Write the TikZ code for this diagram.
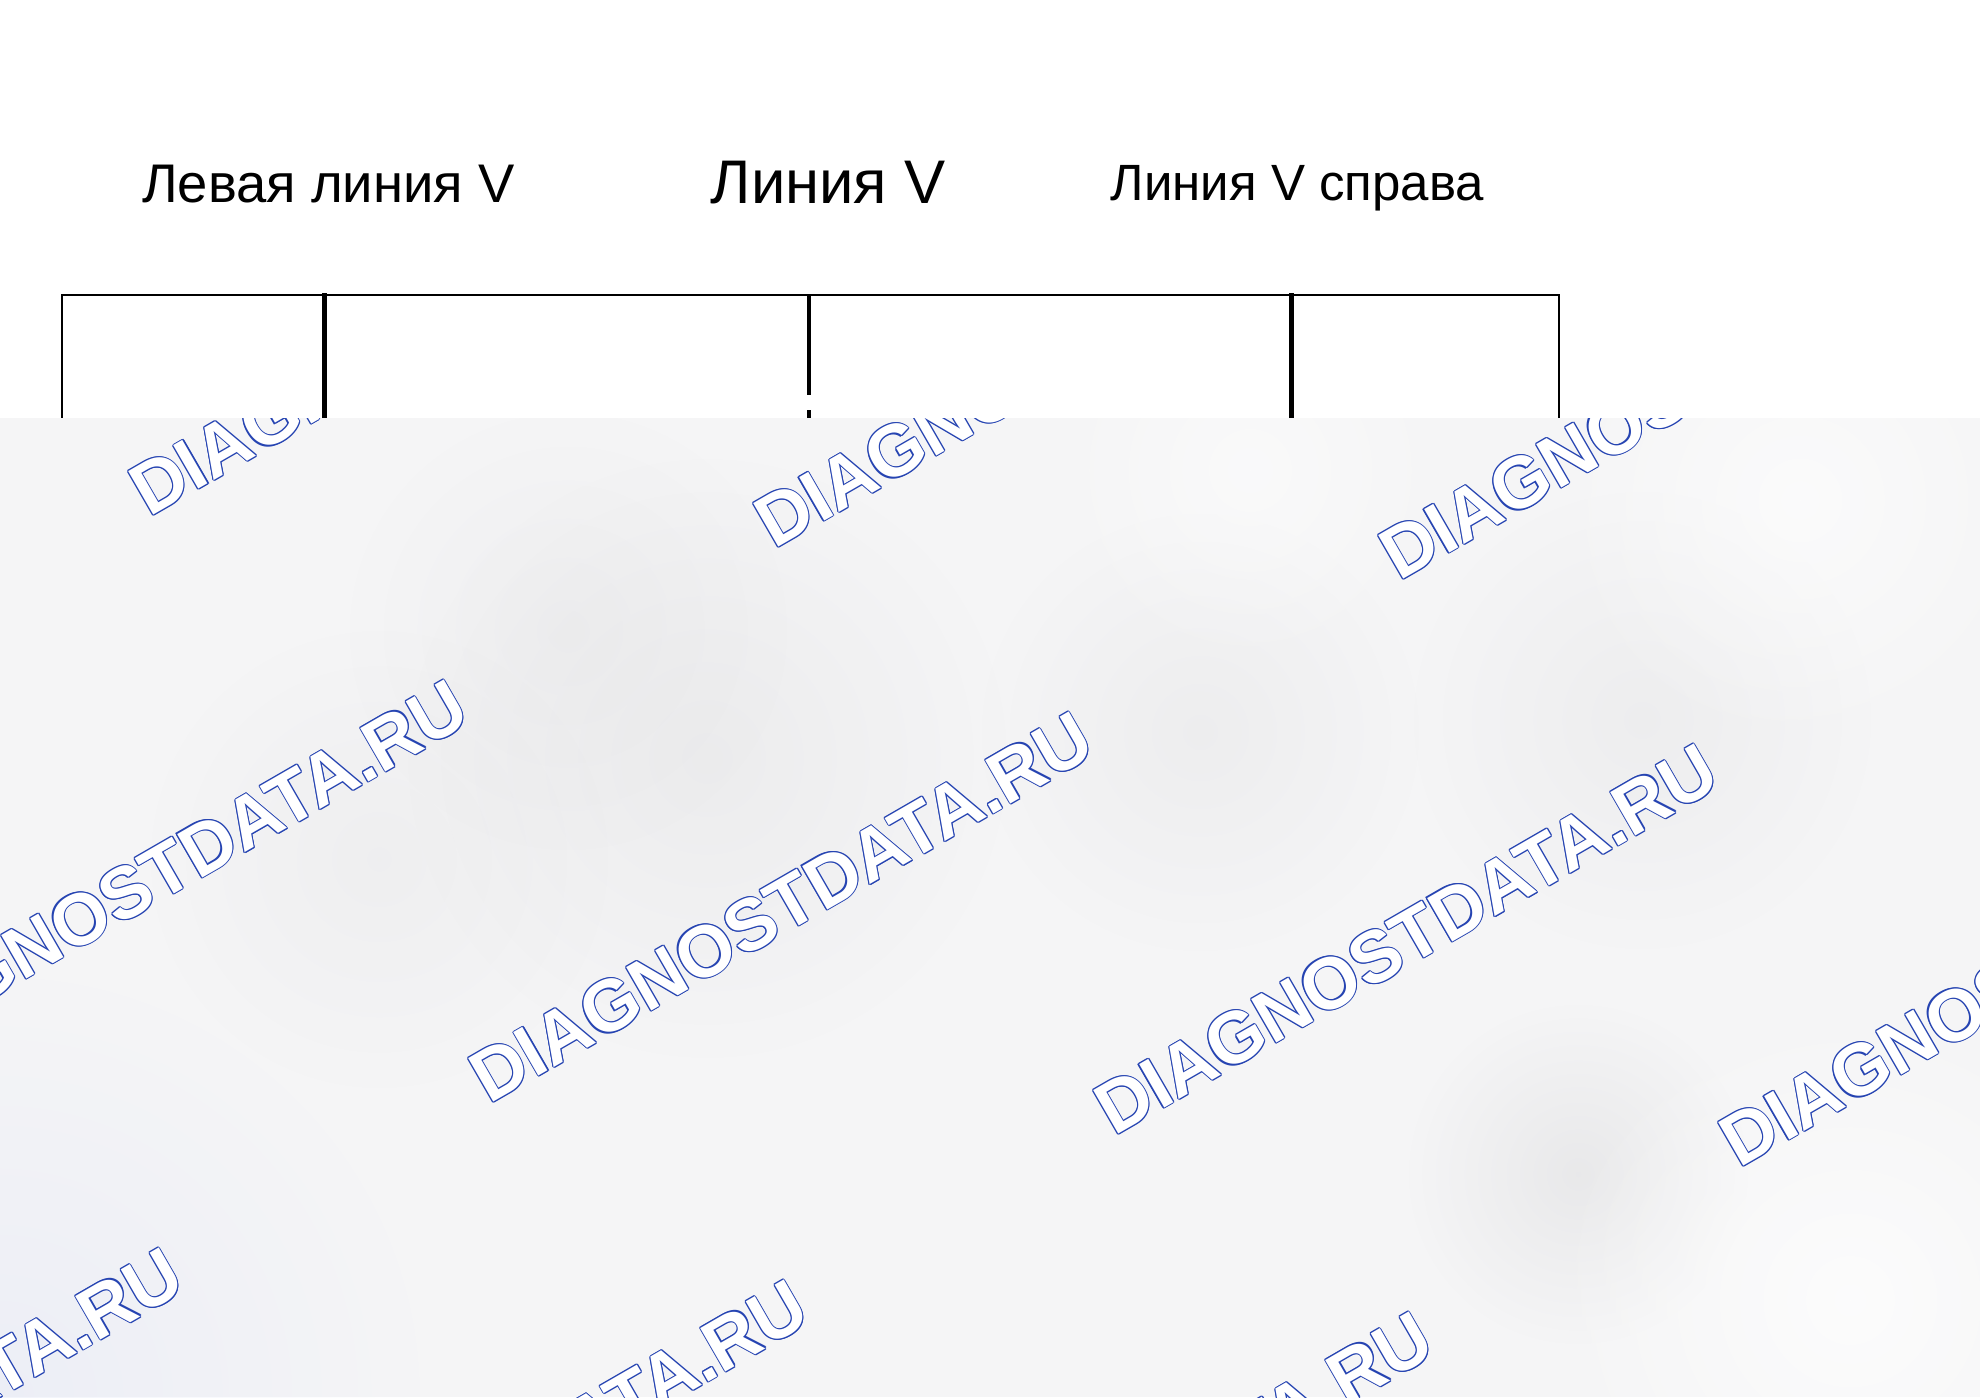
\documentclass[tikz,border=0pt]{standalone}
\usepackage{fontspec}
\setmainfont{Liberation Sans}
\usetikzlibrary{fadings}
\definecolor{wmblue}{RGB}{38,68,178}
\definecolor{bggray}{RGB}{245,245,246}
\definecolor{blobgray}{RGB}{210,210,212}
\tikzfading[name=blobfade, inner color=transparent!0, outer color=transparent!100]
\begin{document}
\begin{tikzpicture}[x=0.5pt,y=-0.5pt,
  lbl/.style={anchor=base, inner sep=0pt, text=black},
  frameline/.style={draw=black, line width=1.25pt, line join=miter},
  thickbar/.style={draw=black, line width=2.5pt},
  midbar/.style={draw=black, line width=1.65pt},
  blob/.style={fill=blobgray, path fading=blobfade},
  wmbase/.style={anchor=base west, rotate=30, inner sep=0pt,
    font=\fontsize{36.5pt}{40pt}\selectfont\bfseries},
  wmedge/.style={wmbase, text=wmblue},
  wmface/.style={wmbase, text=white}]
\useasboundingbox (0,0) rectangle (1980,1397);
\fill[white] (0,0) rectangle (1980,1397);

% titles
\node[lbl, font=\fontsize{27.2pt}{30pt}\selectfont] (leftlbl) at (328.5,202) {Левая линия V};
\node[lbl, font=\fontsize{30.8pt}{33pt}\selectfont] (midlbl) at (828,203) {Линия V};
\node[lbl, font=\fontsize{25.5pt}{28pt}\selectfont] (rightlbl) at (1297.5,200) {Линия V справа};

% frame
\coordinate (tl) at (62,295);
\coordinate (tr) at (1559,295);
\coordinate (bl) at (62,440);
\coordinate (br) at (1559,440);
\coordinate (lt) at (324,293);
\coordinate (lb) at (324,440);
\coordinate (mt) at (809,295);
\coordinate (mg1) at (809,395);
\coordinate (mg2) at (809,410);
\coordinate (mb) at (809,440);
\coordinate (rt) at (1291,293);
\coordinate (rb) at (1291,440);
\draw[frameline] (bl) -- (tl) -- (tr) -- (br);
\draw[thickbar] (lt) -- (lb);
\draw[thickbar] (rt) -- (rb);
\draw[midbar] (mt) -- (mg1);
\draw[midbar] (mg2) -- (mb);

% blurred lower region
\fill[bggray] (0,418) rectangle (1980,1397);
\begin{scope}
\clip (0,418) rectangle (1980,1397);
\fill[blob, opacity=0.25] (707,758) circle (300);
\fill[blob, opacity=0.22] (1200,732) circle (220);
\fill[blob, opacity=0.22] (1642,720) circle (230);
\fill[blob, opacity=0.35] (1578,1174) circle (170);
\fill[blob, opacity=0.18] (379,859) circle (230);
\fill[blob, opacity=0.18] (568,631) circle (220);
\fill[fill=white, path fading=blobfade, opacity=0.7] (1850,1300) circle (300);
\fill[fill=white, path fading=blobfade, opacity=0.6] (1800,500) circle (250);
\fill[fill=white, path fading=blobfade, opacity=0.5] (1250,470) circle (200);
\fill[fill={rgb,255:red,228;green,232;blue,246}, path fading=blobfade, opacity=0.5] (0,1397) circle (420);
% watermarks
\foreach \px/\py [count=\k] in {-476/486, 149/518, 774/550, 1399/582,
    -136/1073, 489/1105, 1114/1137, 1739/1169,
    -421/1641, 204/1673, 829/1705} {
  \foreach \a in {0,45,...,315}
    \node[wmedge, shift={(\a:1.15)}] at (\px,\py) {DIAGNOSTDATA.RU};
  \node[wmface] (wm\k) at (\px,\py) {DIAGNOSTDATA.RU};
}
\end{scope}
\end{tikzpicture}
\end{document}
